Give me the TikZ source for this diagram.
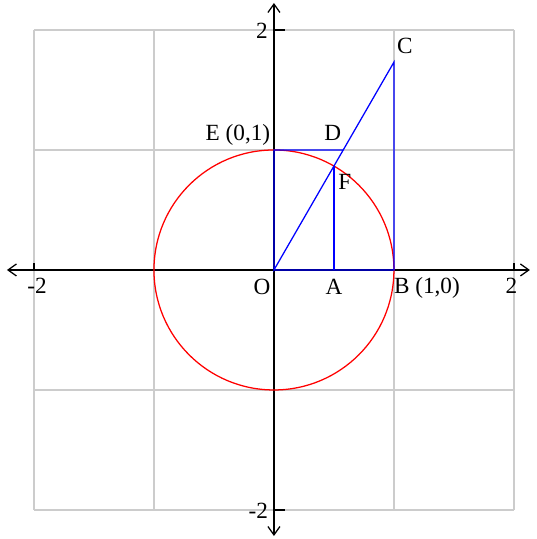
\documentclass[tikz,border=0pt]{standalone}
\usepackage{fontspec}
\setmainfont{Liberation Serif}
\usetikzlibrary{arrows.meta}

\begin{document}
\begin{tikzpicture}[x=2cm, y=2cm,
  font=\fontsize{11}{13}\selectfont,
  gridline/.style={draw=black!20, line width=0.7pt, step=2cm},
  axis/.style={line width=0.6pt,
               {Straight Barb[length=1.4mm,width=2mm]}-{Straight Barb[length=1.4mm,width=2mm]}},
  seg/.style={draw=blue, line width=0.6pt},
  lbl/.style={inner sep=1pt}
]
\useasboundingbox (-2.283,-2.242) rectangle (2.192,2.25);
% ---- grid ----
\draw[gridline] (-2,-2) grid (2,2);

% ---- axes ----
\coordinate (xl) at (-2.225,0);
\coordinate (xr) at (2.133,0);
\coordinate (yb) at (0,-2.217);
\coordinate (yt) at (0,2.225);
\draw[axis] (xl) -- (xr);
\draw[axis] (yb) -- (yt);
\foreach \t in {-2,2} {
  \draw[line width=0.6pt] (\t,0) -- ++(0,0.06);
  \draw[line width=0.6pt] (0,\t) -- ++(0.09,0);
}
\node[lbl] (xmin) at (-1.975,-0.13) {-2};
\node[lbl] (xmax) at (1.98,-0.13)   {2};
\node[lbl] (ymax) at (-0.10,1.99)   {2};
\node[lbl] (ymin) at (-0.13,-2.01)  {-2};

% ---- points ----
\coordinate (O) at (0,0);
\coordinate (A) at (0.5,0);
\coordinate (B) at (1,0);
\coordinate (C) at (1,1.732);
\coordinate (D) at (0.577,1);
\coordinate (E) at (0,1);
\coordinate (F) at (0.5,0.866);

% ---- unit circle ----
\draw[red, line width=0.6pt] (O) circle[radius=1];

% ---- blue segments ----
\draw[seg] (O) -- (B) -- (C) -- (O) -- (E) -- (D);
\draw[seg] (F) -- (A);

% ---- labels ----
\node[lbl] (lC) at (1.09,1.87)   {C};
\node[lbl] (lD) at (0.49,1.14)   {D};
\node[lbl] (lE) at (-0.30,1.125) {E (0,1)};
\node[lbl] (lF) at (0.59,0.73)   {F};
\node[lbl] (lO) at (-0.10,-0.14) {O};
\node[lbl] (lA) at (0.50,-0.14)  {A};
\node[lbl] (lB) at (1.275,-0.15) {B (1,0)};
\end{tikzpicture}
\end{document}
